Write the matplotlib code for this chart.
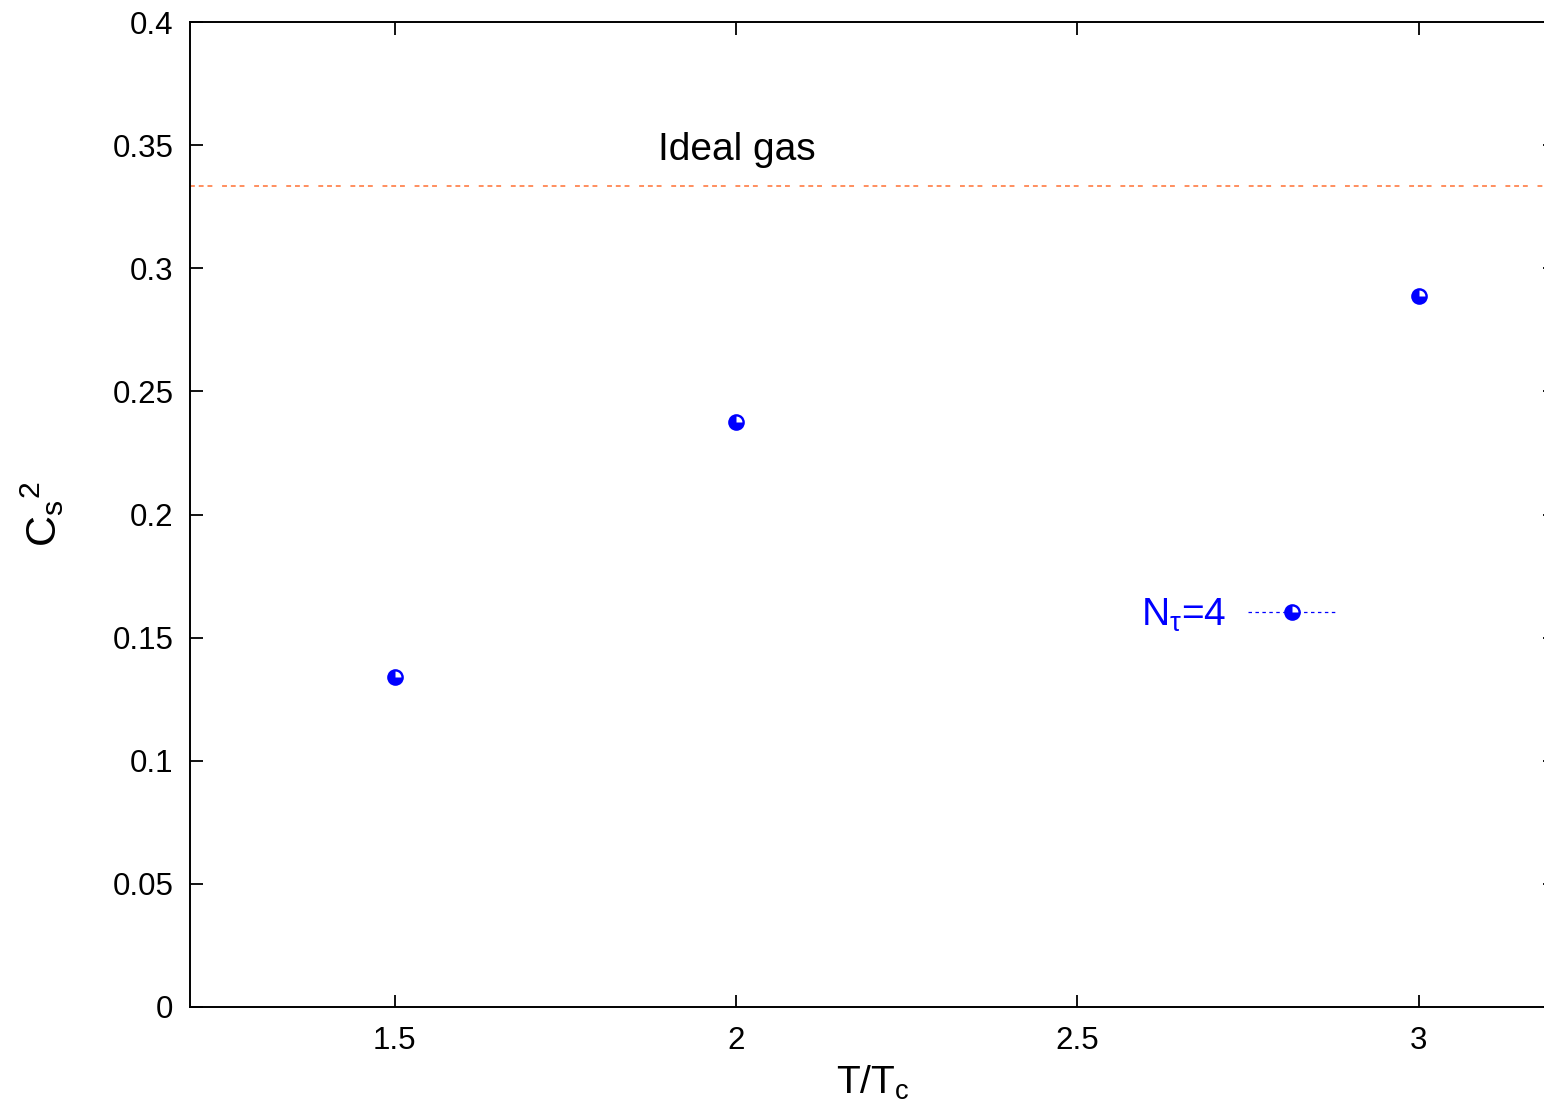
import numpy as np
import matplotlib
matplotlib.use("Agg")
import matplotlib.pyplot as plt
from matplotlib.path import Path
from matplotlib.lines import Line2D

# speed of sound squared vs T/Tc, gnuplot-look figure

#=====================================================================
#     Data
#
t_over_tc  = [1.5, 2.0, 3.0]
cs2        = [0.134, 0.2375, 0.2887]
ideal_gas  = 1.0 / 3.0
series_lab = r'N$_\tau$=4'

xticks = [1.5, 2.0, 2.5, 3.0]
xtlabs = ['1.5', '2', '2.5', '3']
yticks = [0, 0.05, 0.1, 0.15, 0.2, 0.25, 0.3, 0.35, 0.4]
ytlabs = ['0', '0.05', '0.1', '0.15', '0.2', '0.25', '0.3', '0.35', '0.4']
#=====================================================================

plt.rcParams['font.family'] = ['Liberation Sans', 'DejaVu Sans']
plt.rcParams['mathtext.fontset'] = 'custom'
plt.rcParams['mathtext.rm'] = 'Liberation Sans'
plt.rcParams['mathtext.it'] = 'Liberation Sans'
plt.rcParams['mathtext.sf'] = 'Liberation Sans'
plt.rcParams['lines.scale_dashes'] = False

blue = '#0000ff'
orange = '#ff7033'

# white quarter wedge drawn on top of the blue dots
th = np.linspace(0, np.pi / 2, 16)
wv = [(0, 0)] + list(zip(np.cos(th), np.sin(th))) + [(0, 0)]
wedge = Path(wv)

fig = plt.figure(figsize=(15.44, 11.11), dpi=100)
ax = fig.add_axes([190 / 1544, 1 - 1007 / 1111, 1365 / 1544, 985 / 1111])

ax.axhline(ideal_gas, color=orange, lw=1.1, ls=(0, (3.5, 2.8, 3.5, 2.8, 3.5, 7.0)))
ax.text(1.885, 0.344, 'Ideal gas', fontsize=28, ha='left', va='baseline')

ax.plot(t_over_tc, cs2, ls='none', marker='o', ms=12, color=blue, mew=0)
ax.plot(t_over_tc, cs2, ls='none', marker=wedge, ms=8.5, color='white', mew=0)

# legend entry: dashed errorbar-ish line with the dot
h1 = Line2D([], [], color=blue, lw=0.9, ls=(0, (2.5, 2.5)), marker='o', ms=12, mew=0)
h2 = Line2D([], [], ls='none', marker=wedge, ms=8.5, color='white', mew=0)
ax.legend([(h1, h2)], [series_lab], loc='center right', bbox_to_anchor=(0.8403, 0.398),
          frameon=False, markerfirst=False, fontsize=28, labelcolor=blue,
          handlelength=2.3, handletextpad=0.55, borderpad=0, borderaxespad=0, numpoints=1)

ax.set_xlim(1.2, 3.2)
ax.set_ylim(0, 0.4)
ax.set_xticks(xticks)
ax.set_xticklabels(xtlabs)
ax.set_yticks(yticks)
ax.set_yticklabels(ytlabs)
ax.tick_params(direction='in', length=9, width=1.3, labelsize=22.5, top=True, right=True)
ax.tick_params(axis='x', pad=14)
ax.tick_params(axis='y', pad=12)
for s in ax.spines.values():
    s.set_linewidth(1.4)

ax.set_xlabel(r'T/T$_\mathrm{c}$', fontsize=28)
ax.xaxis.set_label_coords(0.5, -0.058)
ax.set_ylabel(r'$\mathrm{C_s}^{2}$', fontsize=31)
ax.yaxis.set_label_coords(-0.091, 0.5)

fig.savefig('out.png', dpi=100)
